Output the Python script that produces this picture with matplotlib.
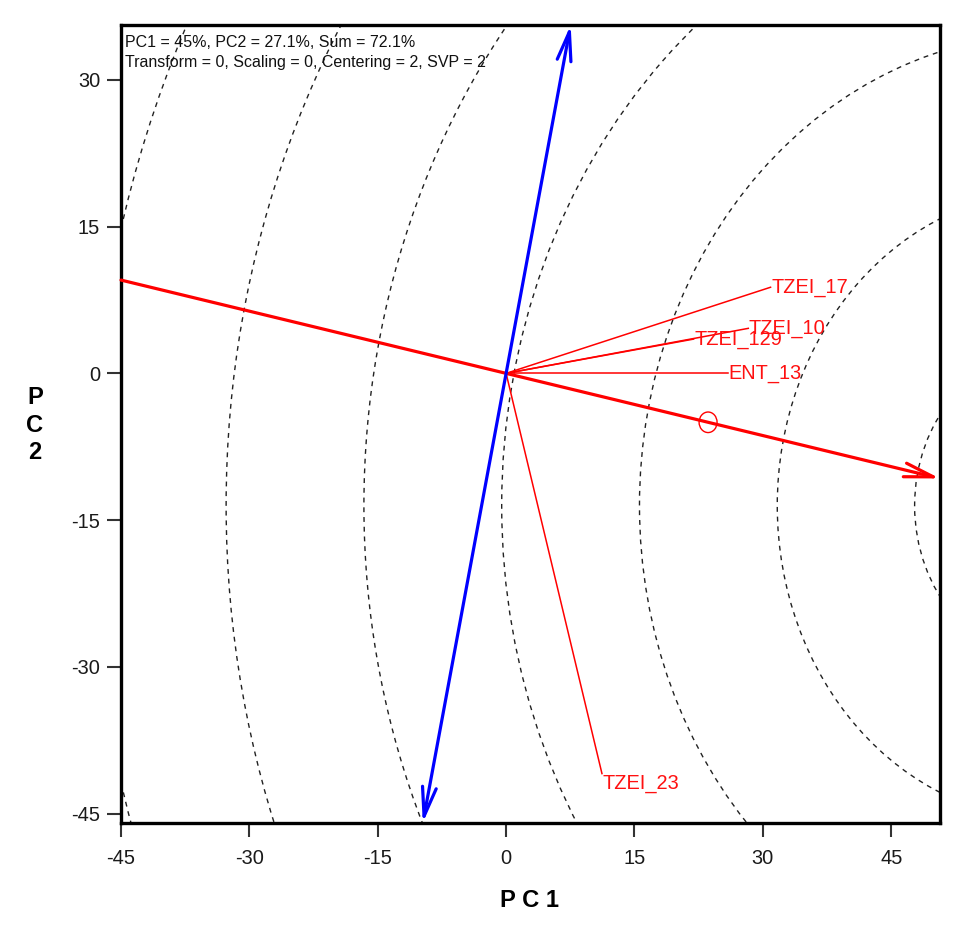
import numpy as np
import matplotlib
matplotlib.use('Agg')
import matplotlib.pyplot as plt
from matplotlib import font_manager as fm
from matplotlib.patches import Circle, FancyArrowPatch, ArrowStyle

# ---------------- data ----------------
genotypes = ['TZEI_17', 'TZEI_10', 'TZEI_129', 'ENT_13', 'TZEI_23']
pc1_scores = [30.9, 28.3, 21.9, 25.9, 11.2]
pc2_scores = [8.8, 4.6, 3.5, 0.0, -40.9]
mean_env = [23.6, -5.0]            # average environment (small circle)
ideal_distance = 65.2              # ideal point distance along the AEC axis
ring_radii = [16.05, 32.1, 48.2, 64.3, 80.4, 96.5, 112.4]
x_ticks = [-45, -30, -15, 0, 15, 30, 45]
y_ticks = [-45, -30, -15, 0, 15, 30]
x_limits = [-45.0, 50.7]
y_limits = [-45.95, 35.6]
info_lines = ['PC1 = 45%, PC2 = 27.1%, Sum = 72.1%',
              'Transform = 0, Scaling = 0, Centering = 2, SVP = 2']
x_label = 'P C 1'
y_label = 'P\nC\n2'


def has_font(name):
    try:
        fm.findfont(fm.FontProperties(family=name), fallback_to_default=False)
        return True
    except Exception:
        return False


NARROW_OK = has_font('Liberation Sans Narrow')
NARROW = 'Liberation Sans Narrow' if NARROW_OK else 'Liberation Sans'
SCALE = 1.0 if NARROW_OK else 0.9
REG = 'Liberation Sans'

W, H = 979, 930
fig = plt.figure(figsize=(W / 100, H / 100), dpi=100)
fig.patch.set_facecolor('white')
ax = fig.add_axes([121 / W, 1 - 823 / H, (940 - 121) / W, (823 - 25) / H])
ax.set_xlim(*x_limits)
ax.set_ylim(*y_limits)

# AEC geometry
u = np.array(mean_env) / np.hypot(*mean_env)
v = np.array([-u[1], u[0]])
ideal = u * ideal_distance

# concentric rings around the ideal point
for r in ring_radii:
    ax.add_patch(Circle(ideal, r, fill=False, edgecolor='#222222', lw=1.0,
                        linestyle=(0, (3.5, 3.5)), zorder=1))

# AEC abscissa (red) with arrow
x0, x1 = x_limits
pA = (x0, x0 * u[1] / u[0])
pB = (x1, x1 * u[1] / u[0])
ax.add_patch(FancyArrowPatch(pA, pB,
                             arrowstyle=ArrowStyle('->', head_length=21, head_width=5),
                             mutation_scale=1, lw=2.3, color='#ff0000',
                             shrinkA=0, shrinkB=0, clip_on=False, zorder=4))

# AEC ordinate (blue) double arrow
tB = y_limits[0] / v[1]
tT = y_limits[1] / v[1]
ax.add_patch(FancyArrowPatch(tuple(v * tB), tuple(v * tT),
                             arrowstyle=ArrowStyle('<->', head_length=21, head_width=5),
                             mutation_scale=1, lw=2.3, color='#0000ff',
                             shrinkA=0, shrinkB=0, clip_on=False, zorder=5))

# genotype vectors and labels
for name, x, y in zip(genotypes, pc1_scores, pc2_scores):
    ax.plot([0, x], [0, y], color='#ff0000', lw=1.1, zorder=3)
    va = 'top' if y < -20 else 'center'
    ax.annotate(name, (x, y), xytext=(0.5, 0), textcoords='offset points',
                ha='left', va=va, color='#ff1010', fontsize=16 * SCALE,
                family=NARROW, zorder=6)

# average environment marker
ax.add_patch(Circle(mean_env, 1.05, fill=False, edgecolor='#ff0000', lw=1.0, zorder=6))

# axes styling
for s in ax.spines.values():
    s.set_linewidth(2.4)
    s.set_color('black')
ax.set_xticks(x_ticks)
ax.set_yticks(y_ticks)
ax.set_xticklabels([str(t) for t in x_ticks])
ax.set_yticklabels([str(t) for t in y_ticks])
ax.tick_params(direction='out', length=10, width=1.5, color='#333333',
               labelsize=16 * SCALE, labelcolor='#1a1a1a')
ax.tick_params(axis='x', pad=9)
ax.tick_params(axis='y', pad=5)
for lab in ax.get_xticklabels() + ax.get_yticklabels():
    lab.set_fontfamily(NARROW)

# info text
fig.text(125 / W, 1 - 46.7 / H, info_lines[0], family=REG, fontsize=11.5,
         va='baseline', ha='left', color='#111111')
fig.text(125 / W, 1 - 66.7 / H, info_lines[1], family=REG, fontsize=11.5,
         va='baseline', ha='left', color='#111111')

# axis labels
fig.text(530 / W, 1 - 907 / H, x_label, family=NARROW, fontsize=19 * SCALE,
         weight='bold', ha='center', va='baseline')
fig.text(35 / W, 1 - 425 / H, y_label, family=NARROW, fontsize=19 * SCALE,
         weight='bold', ha='center', va='center', multialignment='center',
         linespacing=1.25)

fig.savefig('out.png', dpi=100)
